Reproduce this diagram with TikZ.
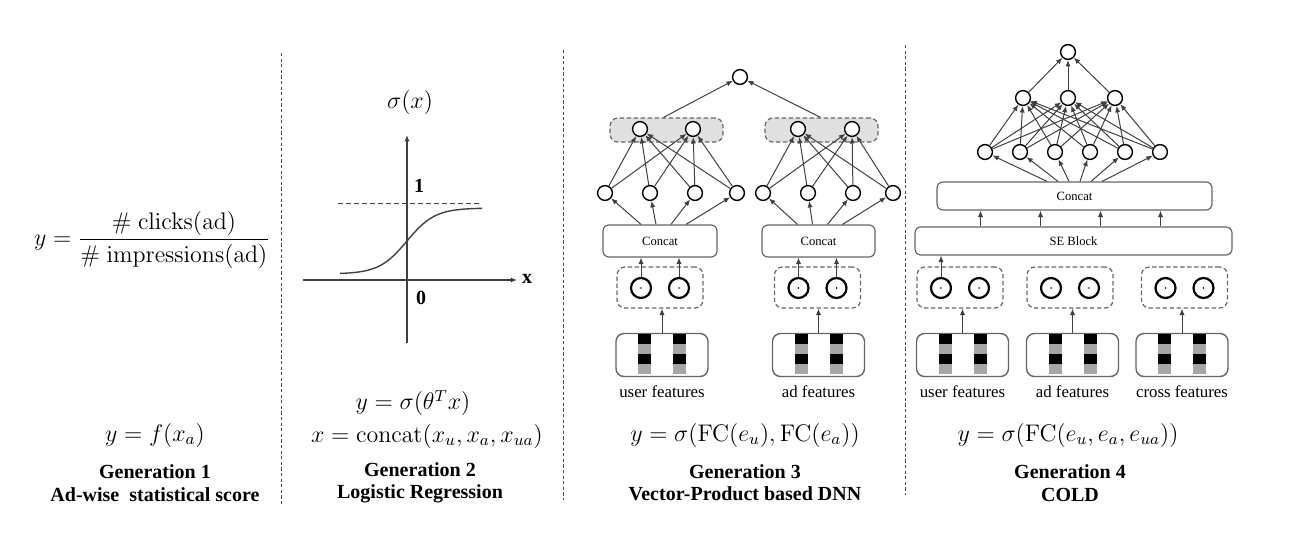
\documentclass[tikz,border=0pt]{standalone}
\usepackage{amsmath}
\usepackage[no-math]{fontspec}
\setmainfont{Liberation Serif}
\usetikzlibrary{shapes,arrows,arrows.meta,positioning}
\tikzstyle{neuron} = [draw, fill=white, circle, line width=0.7pt, minimum size=7.4pt, inner sep=0pt]
\tikzstyle{prod} = [draw, circle, line width=1.1pt, minimum size=10pt, inner sep=0pt, path picture={\fill (path picture bounding box.center) circle (0.45pt);}]
\tikzstyle{block} = [draw=black!60, line width=0.6pt, rounded corners=3pt, inner sep=0pt, font=\fontsize{6.3}{7}\selectfont]
\tikzstyle{group} = [draw=black!60, line width=0.6pt, dash pattern=on 2.2pt off 1.3pt, rounded corners=4pt, inner sep=0pt, minimum width=43pt, minimum height=20.5pt]
\tikzstyle{grayg} = [group, fill=black!12, minimum width=56.5pt, minimum height=12pt]
\tikzstyle{feat} = [draw=black!60, line width=0.7pt, rounded corners=4pt, inner sep=0pt, minimum width=46pt, minimum height=21.5pt]
\tikzstyle{flabel} = [font=\fontsize{8.4}{10}\selectfont]
\tikzstyle{title} = [font=\bfseries\fontsize{10}{11.2}\selectfont, align=center]
\tikzstyle{formula} = [font=\fontsize{12}{14}\selectfont]
\tikzstyle{conn} = [->, draw=black!75, line width=0.5pt]
\tikzstyle{sep} = [draw=black!70, line width=0.5pt, dash pattern=on 1.6pt off 1.2pt]

\begin{document}
\begin{tikzpicture}[x=0.5pt, y=-0.5pt, >={Latex[length=3.2pt,width=2.6pt]}]
  \useasboundingbox (0,0) rectangle (1294,556);
  % separators
  \draw[sep] (281,53) -- (281,505);
  \draw[sep] (563,50) -- (563,500);
  \draw[sep] (905,45) -- (905,495);

  % generation 1
  \node[formula, name=ratio] at (152,240) {$y=\dfrac{\#\;\mathrm{clicks(ad)}}{\#\;\mathrm{impressions(ad)}}$};
  \node[formula, name=f1] at (155,435) {$y=f(x_a)$};
  \node[title, name=t1] at (155,483) {Generation 1\\Ad-wise~ statistical score};

  % generation 2
  \coordinate (xl) at (303,280);
  \coordinate (xr) at (517,280);
  \coordinate (yb) at (407,343);
  \coordinate (yt) at (407,135);
  \draw[line width=0.6pt, draw=black!75, ->] (xl) -- (xr);
  \draw[line width=0.6pt, draw=black!75, ->] (yb) -- (yt);
  \draw[line width=0.5pt, draw=black!75, dash pattern=on 2.5pt off 1.5pt] (338,203) -- (480,203);
  \draw[line width=0.7pt, draw=black!75] plot[domain=340:482, samples=80] (\x, {274-66/(1+exp(-(\x-407)/14))});
  \node[formula, name=sig] at (410,103) {$\sigma(x)$};
  \node[font=\bfseries\fontsize{10}{11}\selectfont, name=one] at (419,186) {1};
  \node[font=\bfseries\fontsize{10}{11}\selectfont, name=zero] at (421,298) {0};
  \node[font=\bfseries\fontsize{10}{11}\selectfont, name=xlab] at (527,279) {x};
  \node[formula, name=f2a] at (413,403) {$y=\sigma(\theta^T x)$};
  \node[formula, name=f2b] at (427,436) {$x=\mathrm{concat}(x_u,x_a,x_{ua})$};
  \node[title, name=t2] at (420,483) {Generation 2\\Logistic Regression};

  % generation 3: nodes
  \node[feat, name=uf3] at (662,355) {};
  \node[feat, name=af3] at (818.5,355) {};
  \node[flabel, below=0.8pt of uf3, name=ul3] {user features};
  \node[flabel, below=0.8pt of af3, name=al3] {ad features};
  \node[group, name=ug3] at (660,287.5) {};
  \node[group, name=ag3] at (817.5,287.5) {};
  \node[prod, name=p1] at (641,288) {};
  \node[prod, name=p2] at (679,288) {};
  \node[prod, name=p3] at (798.5,288) {};
  \node[prod, name=p4] at (836.5,288) {};
  \node[block, minimum width=57pt, minimum height=16pt, name=cu] at (660,241) {Concat};
  \node[block, minimum width=56.5pt, minimum height=16pt, name=ca] at (818.5,241) {Concat};
  \node[neuron, name=h1] at (605,193) {};
  \node[neuron, name=h2] at (650,193) {};
  \node[neuron, name=h3] at (695,193) {};
  \node[neuron, name=h4] at (737,193) {};
  \node[neuron, name=h5] at (763,193) {};
  \node[neuron, name=h6] at (808,193) {};
  \node[neuron, name=h7] at (853,193) {};
  \node[neuron, name=h8] at (893,193) {};
  \node[grayg, name=gg1] at (666.5,130) {};
  \node[grayg, name=gg2] at (821.5,130) {};
  \node[neuron, name=g1] at (640,129) {};
  \node[neuron, name=g2] at (693,129) {};
  \node[neuron, name=g3] at (798,129) {};
  \node[neuron, name=g4] at (852,129) {};
  \node[neuron, name=o3] at (740,77) {};
  \node[formula, name=f3] at (745,435) {$y=\sigma(\mathrm{FC}(e_u),\mathrm{FC}(e_a))$};
  \node[title, name=t3] at (745,483) {Generation 3\\Vector-Product based DNN};

  % generation 4: nodes
  \node[feat, name=uf4] at (962.5,355) {};
  \node[feat, name=af4] at (1072.5,355) {};
  \node[feat, name=cf4] at (1182,355) {};
  \node[flabel, below=0.8pt of uf4, name=ul4] {user features};
  \node[flabel, below=0.8pt of af4, name=al4] {ad features};
  \node[flabel, below=0.8pt of cf4, name=cl4] {cross features};
  \node[group, name=ug4] at (960,287.5) {};
  \node[group, name=ag4] at (1070,287.5) {};
  \node[group, name=cg4] at (1184.5,287.5) {};
  \node[prod, name=q1] at (941,288) {};
  \node[prod, name=q2] at (979,288) {};
  \node[prod, name=q3] at (1051,288) {};
  \node[prod, name=q4] at (1089,288) {};
  \node[prod, name=q5] at (1165.5,288) {};
  \node[prod, name=q6] at (1203.5,288) {};
  \node[block, minimum width=158.5pt, minimum height=14pt, name=se] at (1073.5,241) {SE Block};
  \node[block, minimum width=137.5pt, minimum height=14pt, name=c4] at (1074.5,196) {Concat};
  \node[neuron, name=b1] at (985,152) {};
  \node[neuron, name=b2] at (1020,152) {};
  \node[neuron, name=b3] at (1055,152) {};
  \node[neuron, name=b4] at (1090,152) {};
  \node[neuron, name=b5] at (1125,152) {};
  \node[neuron, name=b6] at (1160,152) {};
  \node[neuron, name=m1] at (1023,98) {};
  \node[neuron, name=m2] at (1068,98) {};
  \node[neuron, name=m3] at (1115,98) {};
  \node[neuron, name=o4] at (1068,52) {};
  \node[formula, name=f4] at (1068,435) {$y=\sigma(\mathrm{FC}(e_u,e_a,e_{ua}))$};
  \node[title, name=t4] at (1070,483) {Generation 4\\COLD};

  % feature stripes
  \foreach \f in {uf3,af3,uf4,af4,cf4}
    \foreach \dx in {-17.5,17.5} {
      \fill[black] ([xshift={(\dx-6.5)*0.5pt}, yshift=-0.6pt]\f.north) rectangle ++(13,10);
      \fill[black!35] ([xshift={(\dx-6.5)*0.5pt}, yshift=-5.6pt]\f.north) rectangle ++(13,10);
      \fill[black] ([xshift={(\dx-6.5)*0.5pt}, yshift=-10.6pt]\f.north) rectangle ++(13,10);
      \fill[black!35] ([xshift={(\dx-6.5)*0.5pt}, yshift=-15.6pt]\f.north) rectangle ++(13,9.5);
    }

  % edges, generation 3
  \draw[conn] (uf3.north) -- (uf3.north |- ug3.south);
  \draw[conn] (af3.north) -- (af3.north |- ag3.south);
  \foreach \p in {p1,p2} \draw[conn] (\p.north) -- (\p.north |- cu.south);
  \foreach \p in {p3,p4} \draw[conn] (\p.north) -- (\p.north |- ca.south);
  \foreach \i/\dx in {1/-9.5,2/-2,3/5.5,4/13} \draw[conn] ([xshift=\dx pt]cu.north) -- (h\i);
  \foreach \i/\dx in {5/-10.5,6/-3,7/4.5,8/12} \draw[conn] ([xshift=\dx pt]ca.north) -- (h\i);
  \foreach \i in {1,...,4} \foreach \j in {1,2} \draw[conn] (h\i) -- (g\j);
  \foreach \i in {5,...,8} \foreach \j in {3,4} \draw[conn] (h\i) -- (g\j);
  \draw[conn] ([xshift=-1.5pt]gg1.north) -- (o3);
  \draw[conn] ([xshift=-0.5pt]gg2.north) -- (o3);

  % edges, generation 4
  \draw[conn] (uf4.north) -- (uf4.north |- ug4.south);
  \draw[conn] (af4.north) -- (af4.north |- ag4.south);
  \draw[conn] (cf4.north) -- (cf4.north |- cg4.south);
  \foreach \p in {q1,...,q6} \draw[conn] (\p.north) -- (\p.north |- se.south);
  \foreach \dx in {-46.5,-16.5,13.5,43.5} \draw[conn] ([xshift=\dx pt]se.north) -- ([xshift=\dx pt]se.north |- c4.south);
  \foreach \i/\dx in {1/-13.75,2/-8.25,3/-2.75,4/2.75,5/8.25,6/13.75} \draw[conn] ([xshift=\dx pt]c4.north) -- (b\i);
  \foreach \i in {1,...,6} \foreach \j in {1,2,3} \draw[conn] (b\i) -- (m\j);
  \foreach \j in {1,2,3} \draw[conn] (m\j) -- (o4);
\end{tikzpicture}
\end{document}
